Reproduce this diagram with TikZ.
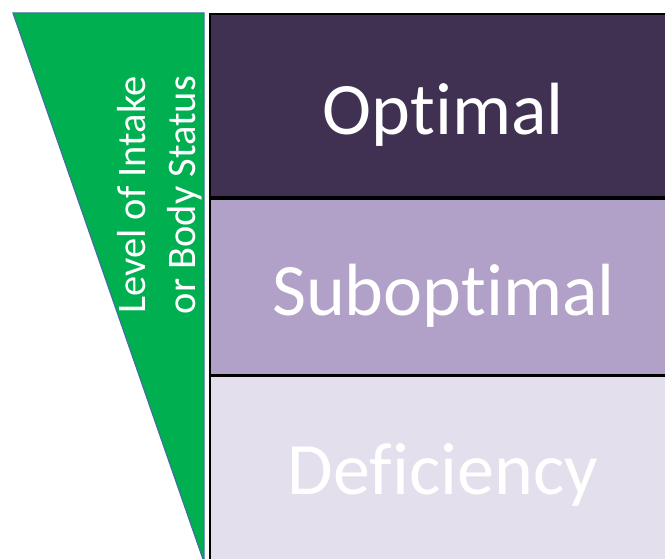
\documentclass[tikz,border=0pt]{standalone}
\usepackage{fontspec}
\setmainfont{Carlito}[Ligatures=NoCommon]
\usepackage{xcolor}
\usepackage{tikz}
\usetikzlibrary{positioning}
\definecolor{optimalpurple}{RGB}{64, 49, 82}
\definecolor{suboptpurple}{RGB}{177, 160, 199}
\definecolor{deficientlilac}{RGB}{228, 223, 236}
\definecolor{levelgreen}{RGB}{0, 176, 80}
\definecolor{edgeblue}{RGB}{65, 113, 156}

\begin{document}
\begin{tikzpicture}[x=1pt, y=-1pt,
    band/.style={draw=black, line width=1.8pt, fill=#1, minimum width=466pt,
                 inner sep=0pt, anchor=north west},
    bandtext/.style={text=white, font=\fontsize{74}{80}\selectfont}
]
    \useasboundingbox (0,0) rectangle (665,559);
    \clip (0,0) rectangle (665,559);
    % level wedge
    \draw[edgeblue, line width=1.2pt, fill=levelgreen] (13,13) -- (204,13) -- (204,562) -- cycle;
    \node[rotate=90, text=white, align=center, font=\fontsize{40.5}{50}\selectfont]
        (level) at (160,195) {Level of Intake\\or Body Status};
    % bands
    \node[band=optimalpurple, minimum height=183pt] (optimal) at (209,13) {};
    \node[band=suboptpurple, minimum height=176pt, below=0pt of optimal.south west, anchor=north west] (subopt) {};
    \node[band=deficientlilac, minimum height=200pt, below=0pt of subopt.south west, anchor=north west] (deficiency) {};
    % band labels
    \node[bandtext] (optimaltext) at ([xshift=0.5pt, yshift=-9pt]optimal.center) {Optimal};
    \node[bandtext] (subopttext) at ([xshift=0.5pt, yshift=-9pt]subopt.center) {Suboptimal};
    \node[bandtext] (deftext) at (443,475) {Deficiency};
\end{tikzpicture}
\end{document}
